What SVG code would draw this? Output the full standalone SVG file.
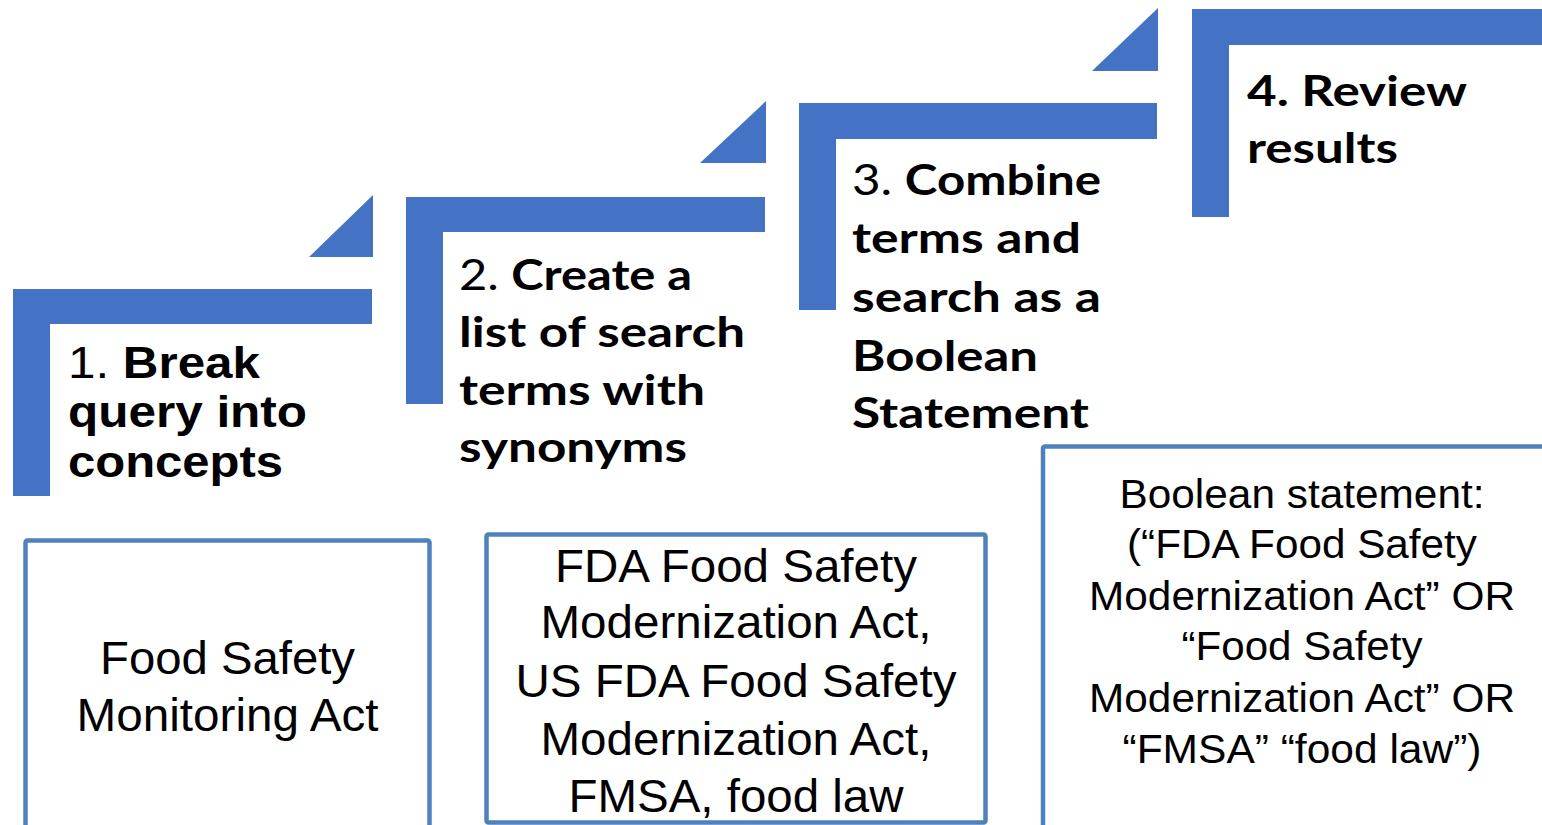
<svg xmlns="http://www.w3.org/2000/svg" width="1542" height="825" viewBox="0 0 1542 825">
<style>
.bar{fill:#4472C4}
.box{fill:#fff;stroke:#4F81BD;stroke-width:4.5}
.t1{font-family:"Liberation Sans",Arial,sans-serif;font-weight:700;font-size:44px;fill:#000}
.tc{font-family:Lato,"Liberation Sans",sans-serif;font-weight:700;font-size:42px;fill:#000}
.reg{font-weight:400}
.bx{font-family:"Liberation Sans",Arial,sans-serif;font-size:46px;fill:#000;text-anchor:middle}
.bx3{font-family:"Liberation Sans",Arial,sans-serif;font-size:40px;fill:#000;text-anchor:middle}
</style>
<rect width="1542" height="825" fill="#fff"/>
<g id="step1">
<path class="bar" d="M13,289 H372 V324 H50 V496 H13 Z"/>
<path class="bar" d="M309,257 H373 V195 Z"/>
<text class="t1" x="68" y="378" textLength="192" lengthAdjust="spacingAndGlyphs"><tspan class="reg">1. </tspan>Break</text>
<text class="t1" x="68" y="427" textLength="239" lengthAdjust="spacingAndGlyphs">query into</text>
<text class="t1" x="68" y="477" textLength="215" lengthAdjust="spacingAndGlyphs">concepts</text>
</g>
<g id="step2">
<path class="bar" d="M406,197 H765 V232 H443 V404 H406 Z"/>
<path class="bar" d="M700,163 H766 V101 Z"/>
<text class="tc" x="459" y="290" textLength="233" lengthAdjust="spacingAndGlyphs"><tspan class="reg">2. </tspan>Create a</text>
<text class="tc" x="459" y="347" textLength="286" lengthAdjust="spacingAndGlyphs">list of search</text>
<text class="tc" x="459" y="405" textLength="246" lengthAdjust="spacingAndGlyphs">terms with</text>
<text class="tc" x="459" y="462" textLength="228" lengthAdjust="spacingAndGlyphs">synonyms</text>
</g>
<g id="step3">
<path class="bar" d="M799,103 H1157 V139 H836 V310 H799 Z"/>
<path class="bar" d="M1092,71 H1158 V8 Z"/>
<text class="tc" x="852" y="195" textLength="249" lengthAdjust="spacingAndGlyphs"><tspan class="reg">3. </tspan>Combine</text>
<text class="tc" x="852" y="253" textLength="229" lengthAdjust="spacingAndGlyphs">terms and</text>
<text class="tc" x="852" y="312" textLength="249" lengthAdjust="spacingAndGlyphs">search as a</text>
<text class="tc" x="852" y="371" textLength="186" lengthAdjust="spacingAndGlyphs">Boolean</text>
<text class="tc" x="852" y="428" textLength="237" lengthAdjust="spacingAndGlyphs">Statement</text>
</g>
<g id="step4">
<path class="bar" d="M1192,9 H1542 V45 H1229 V217 H1192 Z"/>
<text class="tc" x="1247" y="106" textLength="220" lengthAdjust="spacingAndGlyphs">4. Review</text>
<text class="tc" x="1247" y="163" textLength="151" lengthAdjust="spacingAndGlyphs">results</text>
</g>
<g id="box1">
<rect class="box" x="25.5" y="540.5" width="404" height="300" rx="2"/>
<text class="bx" x="227.5" y="674" textLength="255" lengthAdjust="spacingAndGlyphs">Food Safety</text>
<text class="bx" x="227.5" y="731" textLength="302" lengthAdjust="spacingAndGlyphs">Monitoring Act</text>
</g>
<g id="box2">
<rect class="box" x="486.5" y="534.5" width="499" height="288" rx="2"/>
<text class="bx" x="736" y="582" textLength="362" lengthAdjust="spacingAndGlyphs">FDA Food Safety</text>
<text class="bx" x="736" y="638" textLength="391" lengthAdjust="spacingAndGlyphs">Modernization Act,</text>
<text class="bx" x="736" y="697" textLength="441" lengthAdjust="spacingAndGlyphs">US FDA Food Safety</text>
<text class="bx" x="736" y="755" textLength="391" lengthAdjust="spacingAndGlyphs">Modernization Act,</text>
<text class="bx" x="736" y="812" textLength="335" lengthAdjust="spacingAndGlyphs">FMSA, food law</text>
</g>
<g id="box3">
<rect class="box" x="1043" y="446.5" width="520" height="400" rx="2"/>
<text class="bx3" x="1302" y="508" textLength="365" lengthAdjust="spacingAndGlyphs">Boolean statement:</text>
<text class="bx3" x="1302" y="558" textLength="350" lengthAdjust="spacingAndGlyphs">(“FDA Food Safety</text>
<text class="bx3" x="1302" y="610" textLength="426" lengthAdjust="spacingAndGlyphs">Modernization Act” OR</text>
<text class="bx3" x="1302" y="660" textLength="241" lengthAdjust="spacingAndGlyphs">“Food Safety</text>
<text class="bx3" x="1302" y="712" textLength="426" lengthAdjust="spacingAndGlyphs">Modernization Act” OR</text>
<text class="bx3" x="1302" y="763" textLength="359" lengthAdjust="spacingAndGlyphs">“FMSA” “food law”)</text>
</g>
<g id="connectors"/>
</svg>
